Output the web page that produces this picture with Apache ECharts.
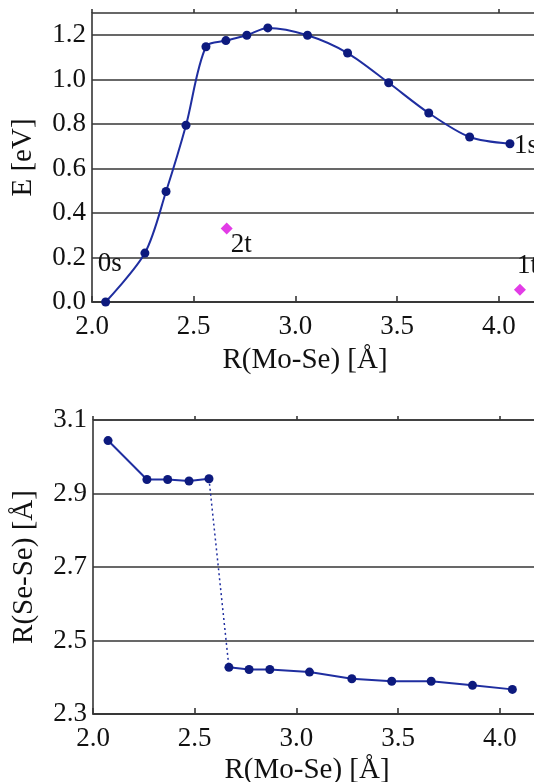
<!DOCTYPE html>
<html>
<head>
<meta charset="utf-8">
<script src="https://cdn.jsdelivr.net/npm/echarts@6/dist/echarts.min.js"></script>
<style>
  html, body { margin: 0; padding: 0; background: #fff; }
  #chart { width: 534px; height: 782px; }
</style>
</head>
<body>
<div id="chart"></div>
<script>
// ─── Data ───────────────────────────────────────────────────────────────────

// top panel: energy along R(Mo-Se)
const R_E   = [2.067, 2.26, 2.364, 2.462, 2.56, 2.658, 2.761, 2.864, 3.059, 3.256, 3.458, 3.655, 3.856, 4.054];
const E_VAL = [0.0, 0.22, 0.497, 0.795, 1.148, 1.176, 1.2, 1.233, 1.2, 1.12, 0.986, 0.85, 0.742, 0.712];
const S_LABELS = ['0s', '1s'];              // first / last point of the singlet curve
const T_R   = [2.662, 4.103];               // triplet points
const T_E   = [0.331, 0.055];
const T_LABELS = ['2t', '1t'];

// bottom panel: R(Se-Se) along R(Mo-Se)
const R_SS_X = [2.074, 2.265, 2.367, 2.472, 2.570, 2.668, 2.767, 2.869, 3.064, 3.272, 3.468, 3.662, 3.865, 4.061];
const R_SS   = [3.044, 2.938, 2.938, 2.934, 2.940, 2.427, 2.421, 2.421, 2.414, 2.396, 2.389, 2.389, 2.378, 2.367];
const JUMP = 4;                              // last point before the dotted jump

// tick labels
const X_TICKS  = [2.0, 2.5, 3.0, 3.5, 4.0];
const E_TICKS  = [0.0, 0.2, 0.4, 0.6, 0.8, 1.0, 1.2];
const SS_TICKS = [2.3, 2.5, 2.7, 2.9, 3.1];

// ─── Styling ────────────────────────────────────────────────────────────────

const FONT = 'Liberation Serif';
const INK = '#111';
const GRID_C = '#363636';
const LINE_C = '#1f2ea0';
const DOT_C = '#0d1a7e';
const MAGENTA = '#e23ce6';
const TICK_FS = 27;
const TITLE_FS = 29;

const pairs = (xs, ys) => xs.map((x, i) => [x, ys[i]]);
const fmt = v => v.toFixed(1);

function xAxes(gridIndex) {
  const base = { type: 'value', gridIndex, min: 2.0, max: 4.3, interval: 0.5 };
  return [
    {
      ...base,
      axisLine: { lineStyle: { color: GRID_C, width: 1.6 } },
      axisTick: { inside: true, length: 6, customValues: X_TICKS, lineStyle: { color: GRID_C, width: 1.6 } },
      axisLabel: { customValues: X_TICKS, formatter: fmt, margin: 11, fontFamily: FONT, fontSize: TICK_FS, color: INK },
      splitLine: { show: false },
    },
    {
      ...base,
      axisLine: { show: false },
      axisTick: { inside: false, length: 4, customValues: X_TICKS, lineStyle: { color: GRID_C, width: 1.6 } },
      axisLabel: { show: false },
      splitLine: { show: false },
    },
  ];
}

function yAxis(gridIndex, min, max, ticks) {
  return {
    type: 'value', gridIndex, min, max, interval: 0.2,
    axisLine: { show: false },
    axisTick: { show: false, customValues: ticks },
    axisLabel: { customValues: ticks, formatter: fmt, margin: 6, fontFamily: FONT, fontSize: TICK_FS, color: INK },
    splitLine: { lineStyle: { color: GRID_C, width: 1.6 } },
  };
}

const labelStyle = { fontFamily: FONT, fontSize: TICK_FS, color: INK, align: 'left', verticalAlign: 'middle' };

// singlet curve with end labels
const sData = pairs(R_E, E_VAL).map((p, i, arr) => {
  if (i === 0) return { value: p, label: { show: true, position: 'inside', offset: [-8, -38], formatter: S_LABELS[0], ...labelStyle } };
  if (i === arr.length - 1) return { value: p, label: { show: true, position: 'inside', offset: [4, 2], formatter: S_LABELS[1], ...labelStyle } };
  return p;
});

const T_OFFSETS = [[4, 16], [-3, -24]];
const tData = pairs(T_R, T_E).map((p, i) => ({
  value: p,
  label: { show: true, position: 'inside', offset: T_OFFSETS[i], formatter: T_LABELS[i], ...labelStyle },
}));

const ssPts = pairs(R_SS_X, R_SS);

const lineBase = {
  type: 'line',
  symbol: 'circle',
  symbolSize: 9,
  lineStyle: { color: LINE_C, width: 2 },
  itemStyle: { color: DOT_C },
  label: { show: false },
  z: 3,
};

const gridBase = { width: 468, show: true, borderColor: GRID_C, borderWidth: 1.6, outerBoundsMode: 'none', containLabel: false };

const option = {
  backgroundColor: '#fff',
  animation: false,
  grid: [
    { ...gridBase, left: 92, top: 13, height: 289 },
    { ...gridBase, left: 93, top: 420, height: 294 },
  ],
  xAxis: [...xAxes(0), ...xAxes(1)],
  yAxis: [yAxis(0, 0, 1.3, E_TICKS), yAxis(1, 2.3, 3.1, SS_TICKS)],
  series: [
    { ...lineBase, xAxisIndex: 0, yAxisIndex: 0, smooth: 0.3, data: sData },
    {
      type: 'scatter', xAxisIndex: 0, yAxisIndex: 0,
      symbol: 'diamond', symbolSize: [12, 12],
      itemStyle: { color: MAGENTA, opacity: 1 },
      data: tData, z: 3,
    },
    { ...lineBase, xAxisIndex: 2, yAxisIndex: 1, data: ssPts.slice(0, JUMP + 1) },
    {
      type: 'line', xAxisIndex: 2, yAxisIndex: 1, symbol: 'none',
      lineStyle: { color: LINE_C, width: 1.5, type: [2, 3] },
      data: ssPts.slice(JUMP, JUMP + 2), z: 2,
    },
    { ...lineBase, xAxisIndex: 2, yAxisIndex: 1, data: ssPts.slice(JUMP + 1) },
  ],
  graphic: [
    { type: 'text', x: 305, y: 360, style: { text: 'R(Mo-Se) [Å]', font: `${TITLE_FS}px "${FONT}"`, fill: INK, align: 'center', verticalAlign: 'middle' } },
    { type: 'text', x: 307, y: 770, style: { text: 'R(Mo-Se) [Å]', font: `${TITLE_FS}px "${FONT}"`, fill: INK, align: 'center', verticalAlign: 'middle' } },
    { type: 'text', x: 23, y: 157.5, rotation: Math.PI / 2, style: { text: 'E [eV]', font: `${TITLE_FS}px "${FONT}"`, fill: INK, align: 'center', verticalAlign: 'middle' } },
    { type: 'text', x: 24, y: 567, rotation: Math.PI / 2, style: { text: 'R(Se-Se) [Å]', font: `${TITLE_FS}px "${FONT}"`, fill: INK, align: 'center', verticalAlign: 'middle' } },
  ],
};

const chart = echarts.init(document.getElementById('chart'), null, { renderer: 'canvas' });
chart.setOption(option);
</script>
</body>
</html>
